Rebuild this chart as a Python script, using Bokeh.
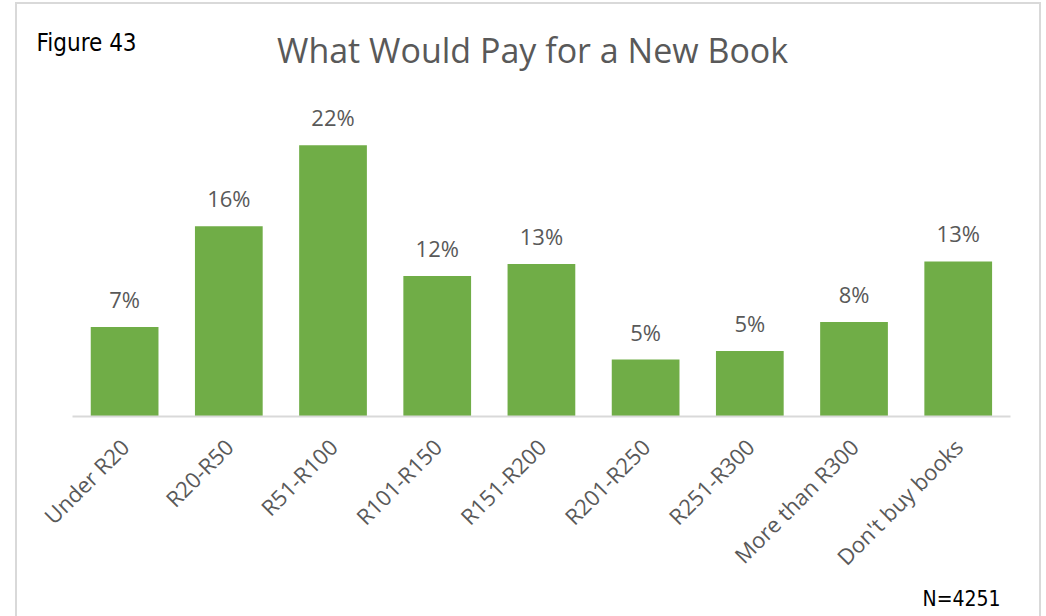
from bokeh.plotting import figure
from bokeh.models import ColumnDataSource, Range1d, FixedTicker, Title
from bokeh.core.properties import value
from bokeh.embed import file_html
from bokeh.resources import INLINE
import math

categories = ["Under R20", "R20-R50", "R51-R100", "R101-R150", "R151-R200",
              "R201-R250", "R251-R300", "More than R300", "Don't buy books"]
values = [7.4, 15.7, 22.4, 11.6, 12.6, 4.7, 5.4, 7.8, 12.8]
value_labels = ["7%", "16%", "22%", "12%", "13%", "5%", "5%", "8%", "13%"]
title_text = "What Would Pay for a New Book"
figure_text = "Figure 43"
n_text = "N=4251"

GREEN = "#70ad47"
GREY_TEXT = "#595959"
LINE = "#d9d9d9"
COND = "DejaVu Sans Condensed"

idx = list(range(len(categories)))
src = ColumnDataSource(dict(x=idx, cat=categories, val=values, lab=value_labels))

p = figure(width=1022, height=612, x_range=Range1d(-1.028, 8.780), y_range=Range1d(0, 34.02),
           output_backend="svg", toolbar_location=None,
           min_border_left=0, min_border_right=0, min_border_top=0, min_border_bottom=200)
p.styles = {"margin-left": "17px", "margin-top": "4px", "outline": "2px solid #d9d9d9"}
p.outline_line_color = None
p.background_fill_color = "white"
p.border_fill_color = "white"
p.xgrid.visible = False
p.ygrid.visible = False
p.yaxis.visible = False

p.vbar(x="x", top="val", width=0.65, source=src, fill_color=GREEN, line_color=None)
p.text(x="x", y="val", text="lab", source=src, text_align="center",
       text_baseline="alphabetic", y_offset=-28, text_font=value("Open Sans"),
       text_font_size="22px", text_color=GREY_TEXT)

ax = p.xaxis[0]
ax.ticker = FixedTicker(ticks=idx)
ax.major_label_overrides = {i: c for i, c in zip(idx, categories)}
ax.bounds = (-0.5, len(categories) - 0.5)
ax.axis_line_color = LINE
ax.axis_line_width = 2
ax.major_tick_line_color = None
ax.minor_tick_line_color = None
ax.major_label_orientation = math.pi / 4
ax.major_label_text_font = "Open Sans"
ax.major_label_text_font_size = "22px"
ax.major_label_text_color = GREY_TEXT
ax.major_label_standoff = 20

# title and figure number as text inside the (full-height) frame
p.text(x=[3.915], y=[30.3], text=[title_text], text_align="center", text_baseline="middle",
       text_font=value("Open Sans"), text_font_size="34px", text_color=GREY_TEXT)
p.text(x=[-0.845], y=[30.85], text=[figure_text], text_align="left", text_baseline="middle",
       text_font=value(COND), text_font_size="24px", text_color="black")

p.add_layout(Title(text=n_text, align="left", offset=905, standoff=0,
                   text_font=COND, text_font_size="21px",
                   text_font_style="normal", text_color="black"), "below")

open("out.html", "w").write(file_html(p, INLINE))
